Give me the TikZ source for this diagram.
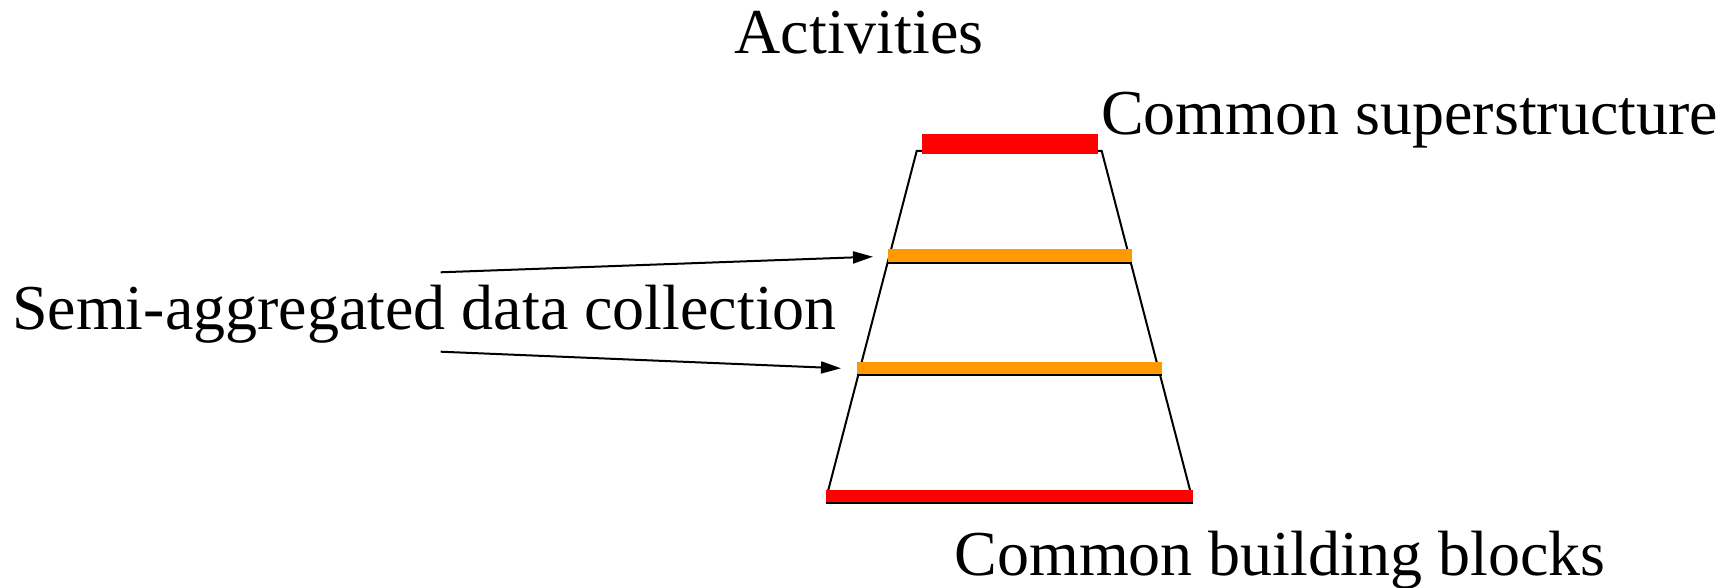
\documentclass[tikz,border=0pt]{standalone}
\usepackage{fontspec}
\setmainfont{Liberation Serif}
\usetikzlibrary{arrows.meta}
\definecolor{barred}{HTML}{FF0000}
\definecolor{barorange}{HTML}{FF9900}
\tikzset{
  lbl/.style={inner sep=0pt, anchor=base west, font=\fontsize{64}{76}\selectfont},
  side/.style={line width=2pt, black},
  rung/.style={line width=2pt, black},
  pointer/.style={line width=2pt, -{Triangle[length=20pt,width=12pt]}},
}
\begin{document}
\begin{tikzpicture}[x=1pt,y=-1pt]
\useasboundingbox (0,0) rectangle (1735,588);
% trapezoid
\coordinate (tl) at (916.7,151);
\coordinate (tr) at (1101.7,151);
\coordinate (bl) at (828.3,490);
\coordinate (br) at (1190,490);
\draw[side] (bl) -- (tl) -- (tr) -- (br);
% bars
\fill[barred] (921.7,134) rectangle (1097.7,154);
\fill[barorange] (888,249.3) rectangle (1132,263.3);
\draw[rung] (888,263.3) -- (1132,263.3);
\fill[barorange] (857.3,361.7) rectangle (1161.7,375);
\draw[rung] (857.3,375) -- (1161.7,375);
\fill[barred] (825.7,489.5) rectangle (1193.3,503);
\draw[rung] (825.7,503) -- (1193.3,503);
% labels
\node[lbl] (act) at (734.5,54) {Activities};
\node[lbl] (sup) at (1101,135) {Common superstructure};
\node[lbl] (semi) at (12,329) {Semi-aggregated data collection};
\node[lbl] (cbb) at (954.5,575) {Common building blocks};
% arrows
\coordinate (a1s) at (440.7,272.3);
\coordinate (a1e) at (873,256.7);
\coordinate (a2s) at (440.7,351.7);
\coordinate (a2e) at (841,368.3);
\draw[pointer] (a1s) -- (a1e);
\draw[pointer] (a2s) -- (a2e);
\end{tikzpicture}
\end{document}
